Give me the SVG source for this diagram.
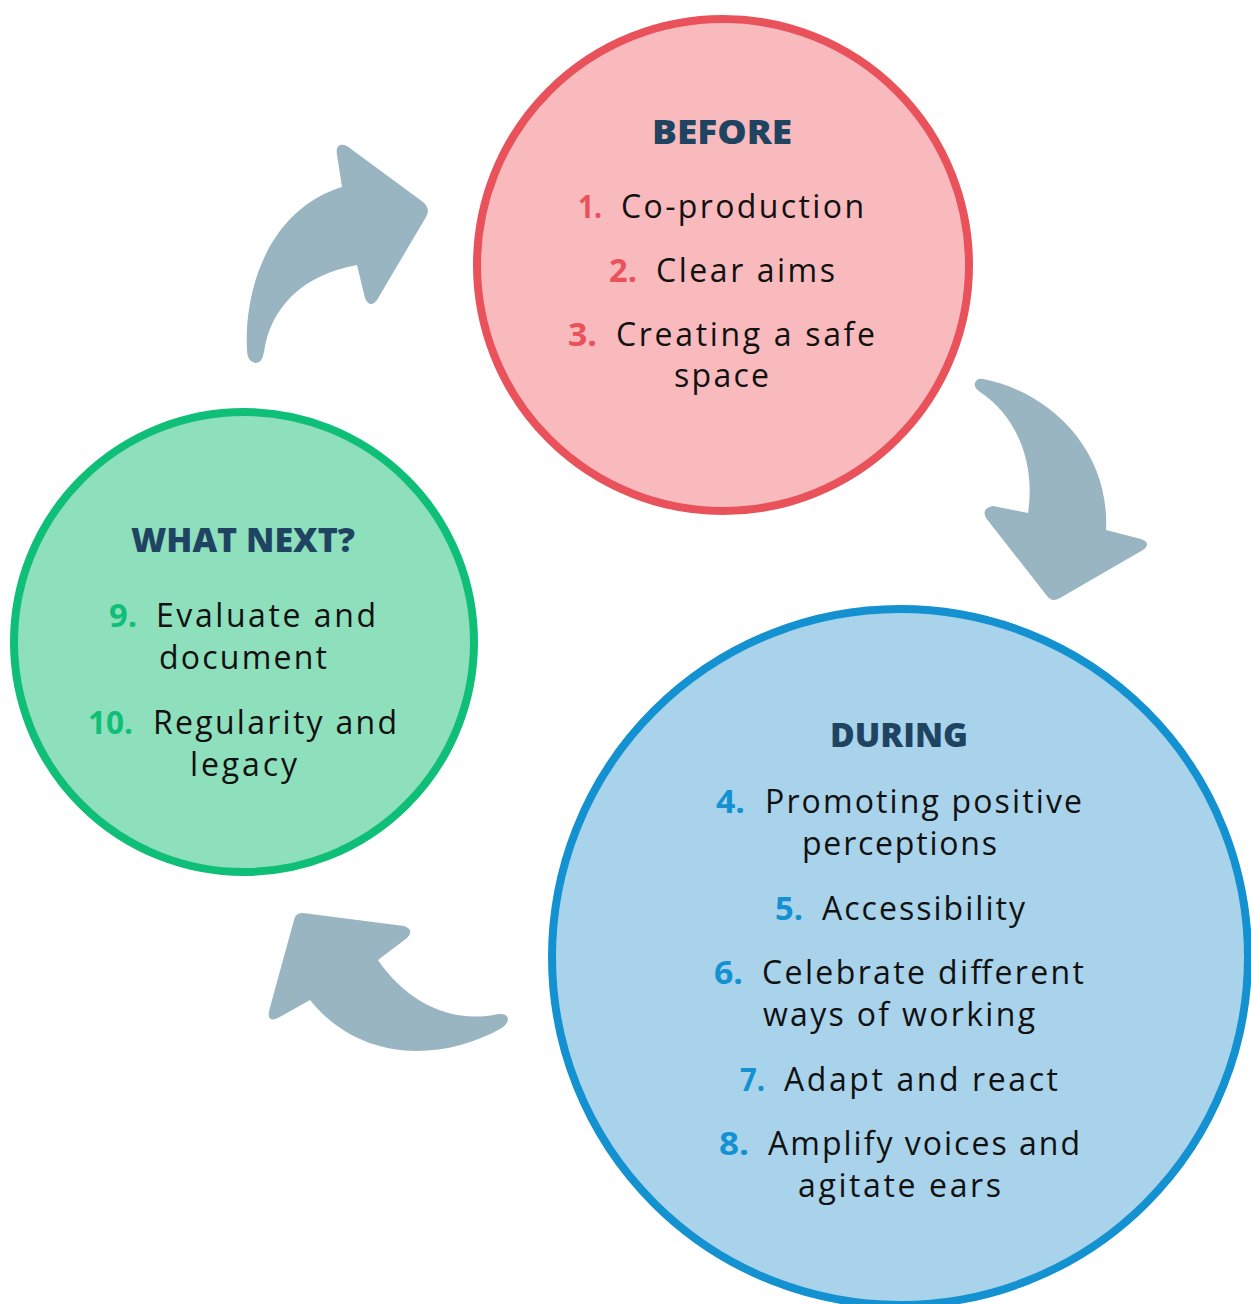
<svg xmlns="http://www.w3.org/2000/svg" width="1251" height="1304" viewBox="0 0 1251 1304">
  <style>
    .head { font-family: "Open Sans", "Liberation Sans", sans-serif; font-weight: 800; font-size: 33px; fill: #1F4462; }
    .item { font-family: "Open Sans", "Liberation Sans", sans-serif; font-weight: 400; font-size: 32px; fill: #111111; }
    .num { font-family: "Open Sans", "Liberation Sans", sans-serif; font-weight: 700; font-size: 32px; }
    .red { fill: #E9525A; }
    .green { fill: #0FBF77; }
    .blue { fill: #1391D0; }
    .arrow { fill: #9AB5C2; }
  </style>
  <rect width="1251" height="1304" fill="#FFFFFF"/>

  <!-- cycle arrows -->
  <g id="connectors">
    <path class="arrow" d="M 247,350 C 244,290 268,210 342,187 L 337,155 Q 335,141 347,146 L 423,202 Q 431,209 426,217 L 377,300 Q 370,309 365,298 L 357,265 C 300,275 270,310 264,352 Q 262,364 255,363 Q 247,361 247,350 Z"/>
    <path class="arrow" d="M 983,379 C 1050,392 1110,450 1106,530 L 1141,539 Q 1152,543 1143,550 L 1060,598 Q 1052,603 1047,596 L 986,518 Q 981,508 993,506 L 1028,513 C 1036,460 1015,415 980,392 Q 972,386 976,381 Q 978,378 983,379 Z"/>
    <path class="arrow" d="M 303,913 L 404,926 Q 415,930 407,938 L 378,960 C 405,1000 450,1025 498,1014 Q 508,1013 508,1020 Q 507,1025 500,1029 C 440,1062 360,1062 310,1000 L 278,1018 Q 267,1023 269,1011 L 294,920 Q 296,912 303,913 Z"/>
  </g>

  <!-- BEFORE -->
  <g id="before">
    <circle cx="723" cy="265" r="246" fill="#F9BABD" stroke="#E9525A" stroke-width="8"/>
    <text class="head" x="652" y="144" textLength="140" lengthAdjust="spacingAndGlyphs">BEFORE</text>
    <text class="num red" x="578" y="218" textLength="24" lengthAdjust="spacingAndGlyphs">1.</text>
    <text class="item" x="621" y="218" textLength="243" lengthAdjust="spacing">Co-production</text>
    <text class="num red" x="609" y="282" textLength="28" lengthAdjust="spacingAndGlyphs">2.</text>
    <text class="item" x="656" y="282" textLength="179" lengthAdjust="spacing">Clear aims</text>
    <text class="num red" x="568" y="346" textLength="29" lengthAdjust="spacingAndGlyphs">3.</text>
    <text class="item" x="616" y="346" textLength="259" lengthAdjust="spacing">Creating a safe</text>
    <text class="item" x="674" y="387" textLength="95" lengthAdjust="spacing">space</text>
  </g>

  <!-- WHAT NEXT? -->
  <g id="what-next">
    <circle cx="244" cy="642" r="230" fill="#8EDFBC" stroke="#0FBF77" stroke-width="8"/>
    <text class="head" x="131" y="552" textLength="224" lengthAdjust="spacingAndGlyphs">WHAT NEXT?</text>
    <text class="num green" x="109" y="627" textLength="28" lengthAdjust="spacingAndGlyphs">9.</text>
    <text class="item" x="156" y="627" textLength="220" lengthAdjust="spacing">Evaluate and</text>
    <text class="item" x="159" y="669" textLength="168" lengthAdjust="spacing">document</text>
    <text class="num green" x="88" y="734" textLength="45" lengthAdjust="spacingAndGlyphs">10.</text>
    <text class="item" x="153" y="734" textLength="244" lengthAdjust="spacing">Regularity and</text>
    <text class="item" x="190" y="776" textLength="107" lengthAdjust="spacing">legacy</text>
  </g>

  <!-- DURING -->
  <g id="during">
    <circle cx="900" cy="957" r="348" fill="#A8D3EB" stroke="#1391D0" stroke-width="8"/>
    <text class="head" x="830" y="747" textLength="138" lengthAdjust="spacingAndGlyphs">DURING</text>
    <text class="num blue" x="716" y="813" textLength="29" lengthAdjust="spacingAndGlyphs">4.</text>
    <text class="item" x="765" y="813" textLength="317" lengthAdjust="spacing">Promoting positive</text>
    <text class="item" x="802" y="855" textLength="195" lengthAdjust="spacing">perceptions</text>
    <text class="num blue" x="775" y="920" textLength="28" lengthAdjust="spacingAndGlyphs">5.</text>
    <text class="item" x="822" y="920" textLength="203" lengthAdjust="spacing">Accessibility</text>
    <text class="num blue" x="714" y="984" textLength="29" lengthAdjust="spacingAndGlyphs">6.</text>
    <text class="item" x="762" y="984" textLength="322" lengthAdjust="spacing">Celebrate different</text>
    <text class="item" x="763" y="1026" textLength="272" lengthAdjust="spacing">ways of working</text>
    <text class="num blue" x="740" y="1091" textLength="25" lengthAdjust="spacingAndGlyphs">7.</text>
    <text class="item" x="784" y="1091" textLength="274" lengthAdjust="spacing">Adapt and react</text>
    <text class="num blue" x="719" y="1155" textLength="30" lengthAdjust="spacingAndGlyphs">8.</text>
    <text class="item" x="768" y="1155" textLength="312" lengthAdjust="spacing">Amplify voices and</text>
    <text class="item" x="798" y="1197" textLength="203" lengthAdjust="spacing">agitate ears</text>
  </g>
</svg>
